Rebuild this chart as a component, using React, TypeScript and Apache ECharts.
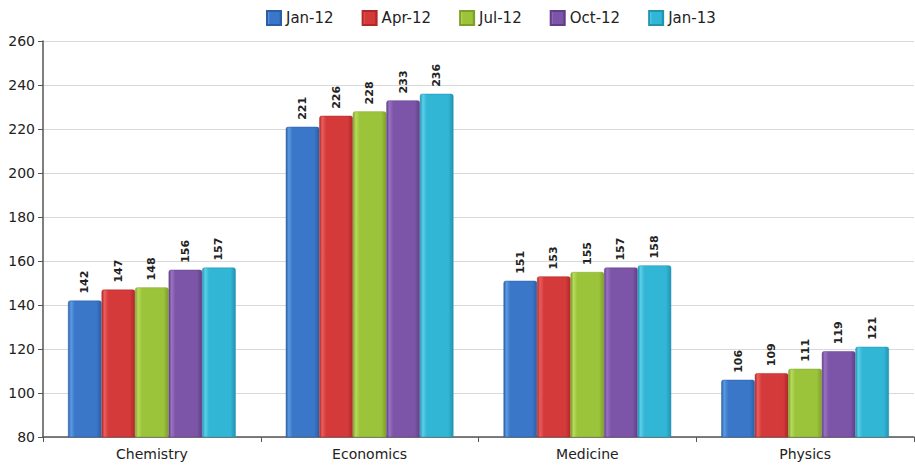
import React, { useEffect, useRef } from "react";
import * as echarts from "echarts";

const categories = ["Chemistry", "Economics", "Medicine", "Physics"];
const seriesNames = ["Jan-12", "Apr-12", "Jul-12", "Oct-12", "Jan-13"];
const jan12 = [142, 221, 151, 106];
const apr12 = [147, 226, 153, 109];
const jul12 = [148, 228, 155, 111];
const oct12 = [156, 233, 157, 119];
const jan13 = [157, 236, 158, 121];
const seriesValues = [jan12, apr12, jul12, oct12, jan13];
const yTicks = { min: 80, max: 260, interval: 20 };

const palettes = [
  ["#5b9be0", "#3a77c8", "#2a5fa8"],
  ["#ea5e5e", "#d43a3a", "#b02828"],
  ["#b6db5a", "#9cc43a", "#7ea02a"],
  ["#9a72c2", "#7d55a8", "#613f88"],
  ["#5ccfe8", "#32b6d6", "#2194b2"],
];

function grad(p: string[]) {
  return new echarts.graphic.LinearGradient(0, 0, 1, 0, [
    { offset: 0, color: p[2] },
    { offset: 0.08, color: p[0] },
    { offset: 0.2, color: p[1] },
    { offset: 0.85, color: p[1] },
    { offset: 1, color: p[2] },
  ]);
}

export default function App() {
  const ref = useRef<HTMLDivElement>(null);
  useEffect(() => {
    if (!ref.current) return;
    const chart = echarts.init(ref.current, undefined, { renderer: "svg" });
    chart.setOption({
      animation: false,
      backgroundColor: "#ffffff",
      textStyle: { fontFamily: "DejaVu Sans" },
      legend: {
        top: 5,
        left: 261,
        itemWidth: 14,
        itemHeight: 14,
        itemGap: 28,
        icon: "rect",
        textStyle: { fontSize: 15, color: "#222", fontFamily: "DejaVu Sans" },
        data: seriesNames,
      },
      grid: { left: 43, right: 1, top: 41, bottom: 29, containLabel: false },
      xAxis: {
        type: "category",
        data: categories,
        axisLine: { lineStyle: { color: "#555", width: 1.5 } },
        axisTick: { show: true, length: 5, lineStyle: { color: "#555" } },
        axisLabel: { fontSize: 14, color: "#222", margin: 10, fontFamily: "DejaVu Sans" },
      },
      yAxis: {
        type: "value",
        min: yTicks.min,
        max: yTicks.max,
        interval: yTicks.interval,
        axisLine: { show: true, lineStyle: { color: "#555", width: 1.5 } },
        axisTick: { show: true, length: 5, lineStyle: { color: "#555" } },
        axisLabel: { fontSize: 14, color: "#222", margin: 8, fontFamily: "DejaVu Sans" },
        splitLine: { lineStyle: { color: "#d9d9d9", width: 1 } },
      },
      series: seriesNames.map((name, i) => ({
        name,
        type: "bar",
        data: seriesValues[i],
        barGap: "0%",
        barCategoryGap: "23%",
        itemStyle: {
          color: grad(palettes[i]),
          borderColor: palettes[i][2],
          borderWidth: 0.5,
          borderRadius: [2, 2, 0, 0],
        },
        label: {
          show: true,
          position: "top",
          rotate: 90,
          align: "left",
          verticalAlign: "middle",
          distance: 7,
          fontSize: 11,
          fontWeight: "bold",
          color: "#222",
          fontFamily: "DejaVu Sans",
        },
      })),
    });
    return () => chart.dispose();
  }, []);
  return <div ref={ref} style={{ width: 915, height: 466, position: "absolute", left: 0, top: 0 }} />;
}
